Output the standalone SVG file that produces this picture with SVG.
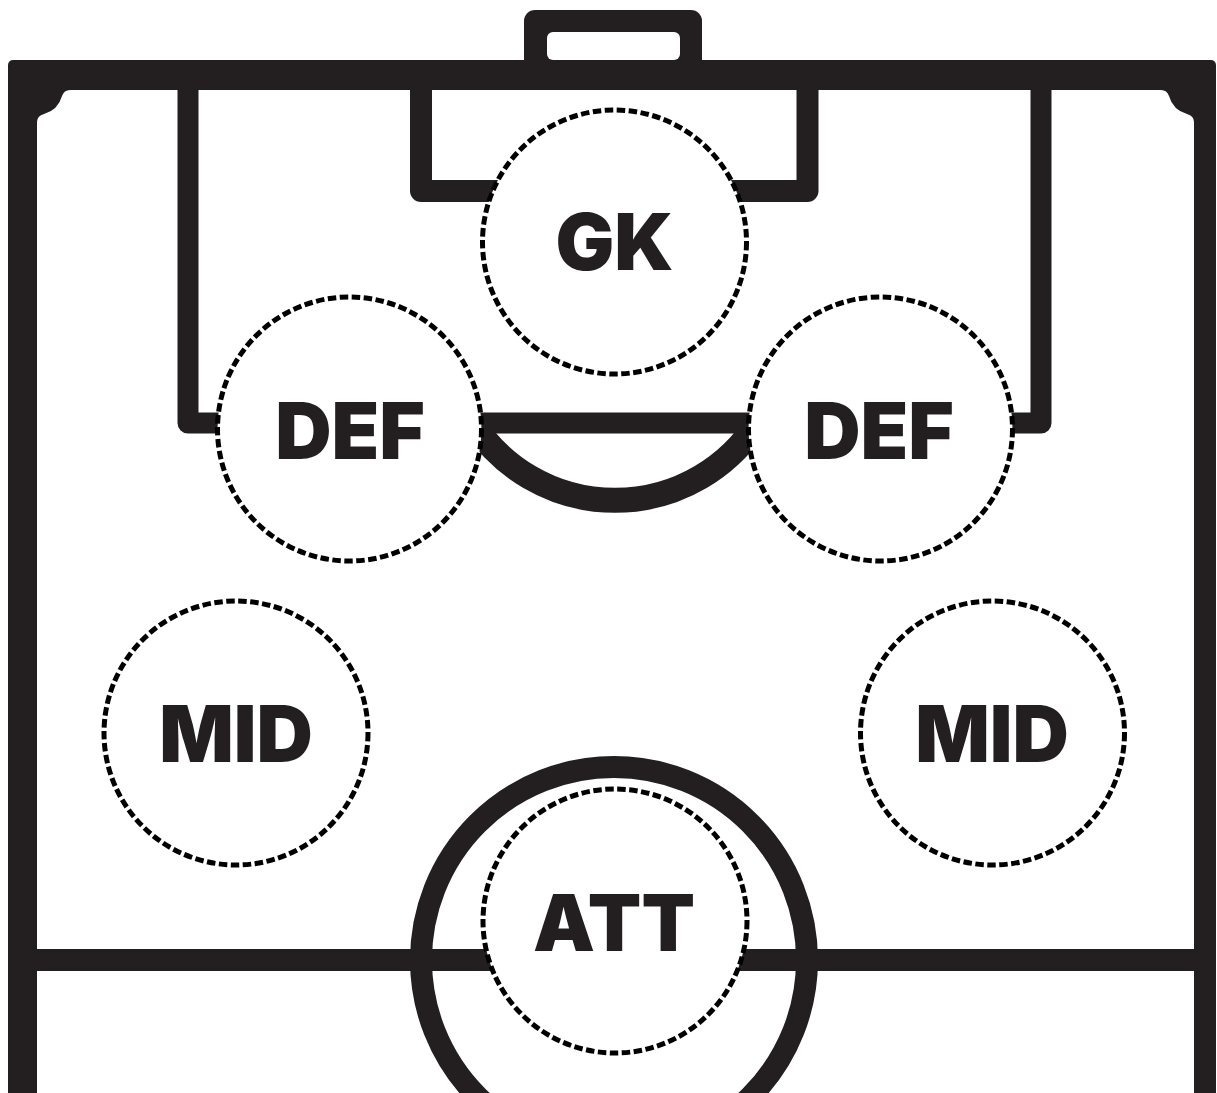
<svg xmlns="http://www.w3.org/2000/svg" width="1217" height="1093" viewBox="0 0 1217 1093">
  <style>
    .line { fill: none; stroke: #231f20; stroke-linejoin: round; }
    .pos { fill: #ffffff; stroke: #000000; stroke-width: 5; stroke-dasharray: 8.5 3.5; }
    .lbl { font-family: Inter, "Liberation Sans", sans-serif; font-weight: 900; font-size: 78px; fill: #231f20; text-anchor: middle; }
  </style>
  <rect width="1217" height="1093" fill="#ffffff"/>
  <g id="pitch">
    <!-- goal -->
    <rect x="524" y="10" width="178" height="70" rx="11" fill="#231f20"/>
    <rect x="547" y="32" width="133" height="28" rx="6" fill="#ffffff"/>
    <!-- outer frame -->
    <rect x="8" y="60" width="1208" height="1060" rx="5" fill="#231f20"/>
    <path fill="#ffffff" d="M37,1120 V122 Q37,116 44,114 A26,26 0 0 0 62,96 Q64,90 70,90 H1161 Q1167,90 1169,96 A26,26 0 0 0 1187,114 Q1194,116 1194,122 V1120 Z"/>
    <!-- penalty box -->
    <path class="line" stroke-width="21" d="M188,85 V423 H1041 V85"/>
    <!-- goal area -->
    <path class="line" stroke-width="22" d="M421,85 V191 H807.5 V85"/>
    <!-- penalty arc -->
    <path class="line" stroke-width="25" d="M473,423 A169,169 0 0 0 757,423"/>
    <!-- halfway line -->
    <line class="line" stroke-width="22" x1="30" y1="960" x2="1200" y2="960"/>
    <!-- centre circle -->
    <circle class="line" stroke-width="22" cx="614" cy="960" r="193"/>
  </g>
  <g id="node-gk">
    <circle class="pos" cx="614.5" cy="242" r="132"/>
    <text class="lbl" x="614.5" y="270">GK</text>
  </g>
  <g id="node-def-left">
    <circle class="pos" cx="349.5" cy="429" r="132"/>
    <text class="lbl" x="350" y="459">DEF</text>
  </g>
  <g id="node-def-right">
    <circle class="pos" cx="880.5" cy="429" r="132"/>
    <text class="lbl" x="879" y="459">DEF</text>
  </g>
  <g id="node-mid-left">
    <circle class="pos" cx="236" cy="733" r="132"/>
    <text class="lbl" x="236" y="762">MID</text>
  </g>
  <g id="node-mid-right">
    <circle class="pos" cx="992.5" cy="733" r="132"/>
    <text class="lbl" x="992" y="762">MID</text>
  </g>
  <g id="node-att">
    <circle class="pos" cx="615" cy="921" r="132"/>
    <text class="lbl" x="614" y="951">ATT</text>
  </g>
  <g id="connectors"/>
</svg>
